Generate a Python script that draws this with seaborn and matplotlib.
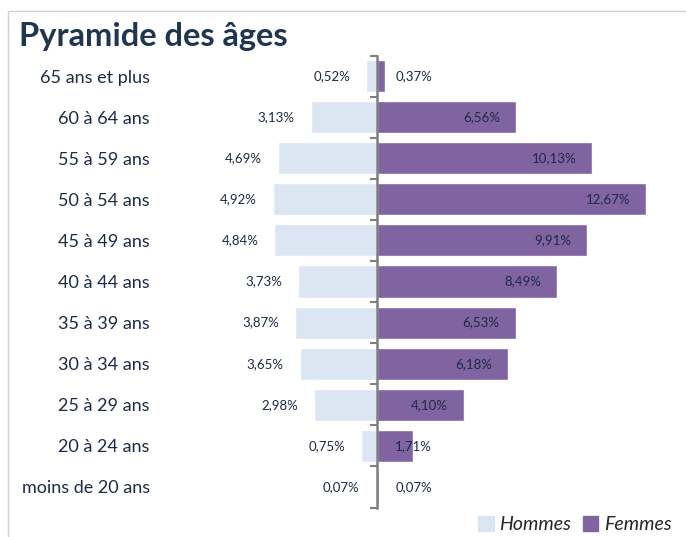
import pandas as pd
import matplotlib
matplotlib.use("Agg")
import matplotlib.pyplot as plt
import seaborn as sns
from matplotlib.lines import Line2D

AGES = [
    "65 ans et plus",
    "60 à 64 ans",
    "55 à 59 ans",
    "50 à 54 ans",
    "45 à 49 ans",
    "40 à 44 ans",
    "35 à 39 ans",
    "30 à 34 ans",
    "25 à 29 ans",
    "20 à 24 ans",
    "moins de 20 ans",
]
HOMMES = [0.52, 3.13, 4.69, 4.92, 4.84, 3.73, 3.87, 3.65, 2.98, 0.75, 0.07]
FEMMES = [0.37, 6.56, 10.13, 12.67, 9.91, 8.49, 6.53, 6.18, 4.10, 1.71, 0.07]

C_H = "#dce6f2"
C_F = "#8064a2"
NAVY = "#1c2b45"


def fmt(v):
    return f"{v:.2f}".replace(".", ",") + "%"


def main():
    sns.set_theme(style="white")
    plt.rcParams["font.family"] = ["Lato", "DejaVu Sans"]

    df = pd.DataFrame({
        "age": AGES * 2,
        "val": [-v for v in HOMMES] + FEMMES,
        "sexe": ["Hommes"] * len(AGES) + ["Femmes"] * len(AGES),
    })

    fig = plt.figure(figsize=(6.86, 5.37), dpi=100)
    ax = fig.add_axes([0.2405, 0.0549, 0.742, 0.8417])
    sns.barplot(data=df, x="val", y="age", hue="sexe", order=AGES,
                palette={"Hommes": C_H, "Femmes": C_F}, dodge=False,
                width=0.78, orient="h", ax=ax, legend=False, saturation=1)
    ax.set_xlim(-10, 14)
    ax.set_ylim(len(AGES) - 0.5, -0.5)
    ax.set_xlabel("")
    ax.set_ylabel("")
    ax.set_xticks([])

    # central axis with boundary ticks
    for s in ["top", "right", "bottom"]:
        ax.spines[s].set_visible(False)
    ax.spines["left"].set_position(("data", 0))
    ax.spines["left"].set_color("#7f7f7f")
    ax.spines["left"].set_linewidth(1.8)
    ax.set_yticks([i - 0.5 for i in range(len(AGES) + 1)], labels=[])
    ax.tick_params(axis="y", length=5, width=1.5, color="#7f7f7f",
                   direction="out", left=True)

    sec = ax.secondary_yaxis("left")
    sec.set_yticks(range(len(AGES)), labels=AGES)
    sec.tick_params(length=0, pad=11, labelsize=13, labelcolor=NAVY)
    for s in sec.spines.values():
        s.set_visible(False)

    # value labels
    for i, (h, f) in enumerate(zip(HOMMES, FEMMES)):
        ax.text(-(h + 0.75), i, fmt(h), ha="right", va="center",
                fontsize=9.5, color=NAVY)
        ax.text(max(f - 0.75, 2.6), i, fmt(f), ha="right", va="center",
                fontsize=9.5, color=NAVY)

    fig.text(0.028, 0.932, "Pyramide des âges", fontsize=23.5,
             fontweight="bold", color="#1f3550", ha="left", va="center")

    # frame lines
    fig.add_artist(Line2D([0.012, 0.012, 1.0], [0.0, 0.98, 0.98],
                          transform=fig.transFigure, color="#d0d0d0", lw=1))

    handles = [plt.Rectangle((0, 0), 1, 1, color=C_H),
               plt.Rectangle((0, 0), 1, 1, color=C_F)]
    fig.legend(handles, ["Hommes", "Femmes"], loc="lower right",
               bbox_to_anchor=(1.005, -0.025), ncol=2, frameon=False,
               prop={"style": "italic", "size": 14}, handlelength=0.8,
               handleheight=0.8, handletextpad=0.3, columnspacing=0.6)

    fig.savefig("out.png", dpi=100)


if __name__ == "__main__":
    main()
